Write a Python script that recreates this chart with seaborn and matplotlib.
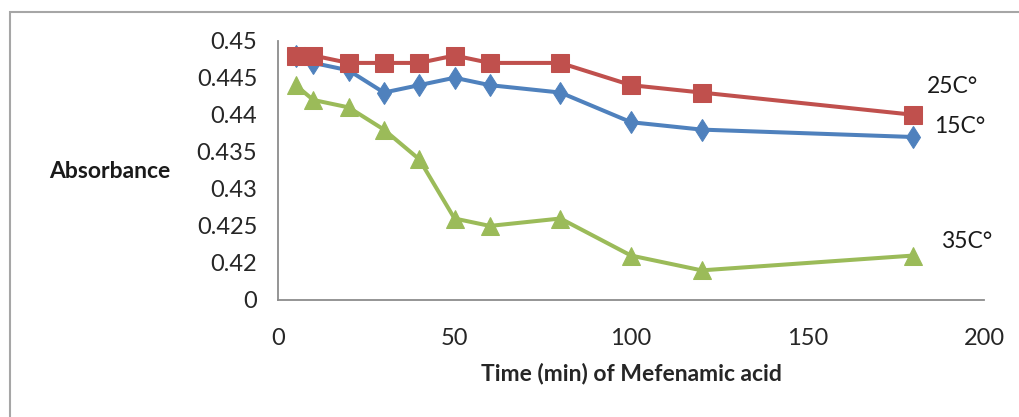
import matplotlib
matplotlib.use("Agg")
import matplotlib.pyplot as plt
import seaborn as sns
import pandas as pd
from matplotlib.patches import Rectangle

# ---- data ----
time_min = [5, 10, 20, 30, 40, 50, 60, 80, 100, 120, 180]
abs_15 = [0.448, 0.447, 0.446, 0.443, 0.444, 0.445, 0.444, 0.443, 0.439, 0.438, 0.437]
abs_25 = [0.448, 0.448, 0.447, 0.447, 0.447, 0.448, 0.447, 0.447, 0.444, 0.443, 0.440]
abs_35 = [0.444, 0.442, 0.441, 0.438, 0.434, 0.426, 0.425, 0.426, 0.421, 0.419, 0.421]
series_names = ["15C°", "25C°", "35C°"]
y_ticks = [0.415, 0.42, 0.425, 0.43, 0.435, 0.44, 0.445, 0.45]
y_ticklabels = ["0", "0.42", "0.425", "0.43", "0.435", "0.44", "0.445", "0.45"]
x_ticks = [0, 50, 100, 150, 200]

sns.set_theme(style="white")
plt.rcParams["font.family"] = ["Lato", "DejaVu Sans"]

fig = plt.figure(figsize=(10.19, 4.17), dpi=100)
ax = fig.add_axes([278 / 1019, 1 - 300 / 417, 706 / 1019, 259.3 / 417])

df = pd.DataFrame({"time": time_min, "15C°": abs_15, "25C°": abs_25, "35C°": abs_35})

styles = {
    "15C°": dict(color="#4F81BD", marker="d", markersize=11.5),
    "35C°": dict(color="#9BBB59", marker="^", markersize=13.5),
    "25C°": dict(color="#C0504D", marker="s", markersize=12.5),
}
for name in ["15C°", "35C°", "25C°"]:
    st = styles[name]
    sns.lineplot(data=df, x="time", y=name, ax=ax, color=st["color"], linewidth=2.9,
                 marker=st["marker"], markersize=st["markersize"],
                 markeredgecolor=st["color"], markerfacecolor=st["color"],
                 sort=False, errorbar=None, legend=False, clip_on=False)

ax.set_xlim(0, 200)
ax.set_ylim(0.415, 0.45)
ax.set_xticks(x_ticks)
ax.set_yticks(y_ticks)
ax.set_yticklabels(y_ticklabels)

for s in ["top", "right"]:
    ax.spines[s].set_visible(False)
for s in ["left", "bottom"]:
    ax.spines[s].set_color("#8C8C8C")
    ax.spines[s].set_linewidth(1.3)
ax.tick_params(axis="both", which="major", direction="out", length=7, width=1.3,
               color="#8C8C8C", labelsize=17, labelcolor="#262626")
ax.tick_params(axis="y", pad=8)
ax.tick_params(axis="x", pad=13)

ax.set_xlabel("Time (min) of Mefenamic acid", fontsize=16.5, fontweight="bold", labelpad=10)
ax.set_ylabel("")
fig.text(110 / 1019, 1 - 172 / 417, "Absorbance", fontsize=16.5, fontweight="bold",
         ha="center", va="center", color="#1a1a1a")

ax.text(0.955, 0.823, "25C°", transform=ax.transAxes, fontsize=16.5, ha="center", va="center", color="#1a1a1a")
ax.text(0.966, 0.668, "15C°", transform=ax.transAxes, fontsize=16.5, ha="center", va="center", color="#1a1a1a")
ax.text(0.975, 0.225, "35C°", transform=ax.transAxes, fontsize=16.5, ha="center", va="center", color="#1a1a1a")

# outer chart border (partially visible)
fig.patches.append(Rectangle((10 / 1019, -0.1), 1.2, 1 - 12 / 417 + 0.1, transform=fig.transFigure,
                             fill=False, edgecolor="#A6A6A6", linewidth=1.5))

fig.savefig("out.png", dpi=100)
